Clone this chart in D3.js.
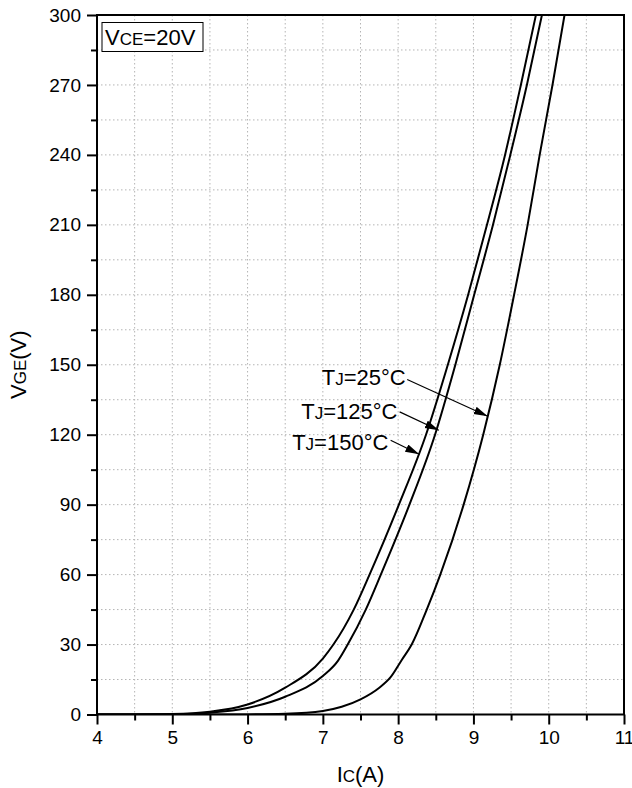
<!DOCTYPE html>
<html>
<head>
<meta charset="utf-8">
<script src="https://cdn.jsdelivr.net/npm/d3@7"></script>
<style>
body { margin: 0; background: #fff; }
text { font-family: "Liberation Sans", Arial, sans-serif; fill: #000; }
</style>
</head>
<body>
<svg width="632" height="788"></svg>
<script>
// transfer curves, VGE(V) against Ic(A)
var ic25 = [4.0, 5.0, 5.5, 6.0, 6.5, 7.0, 7.25, 7.5, 7.75, 7.9, 8.05, 8.18, 8.38, 8.56, 8.87, 9.13, 9.35, 9.54, 9.72, 9.88, 10.05, 10.21];
var vge25 = [0, 0, 0.01, 0.05, 0.3, 1.5, 3.3, 6.5, 11.5, 16, 23.5, 30, 45, 60, 90, 120, 150, 180, 210, 240, 270, 300];

var ic125 = [4.0, 4.5, 5.0, 5.5, 6.0, 6.5, 7.0, 7.2, 7.33, 7.57, 7.77, 8.15, 8.49, 8.76, 9.01, 9.26, 9.49, 9.71, 9.91];
var vge125 = [0, 0.02, 0.12, 0.8, 2.8, 7.6, 16.5, 23, 30, 45, 60, 90, 120, 150, 180, 210, 240, 270, 300];

var ic150 = [4.0, 4.5, 5.0, 5.5, 6.0, 6.5, 7.0, 7.14, 7.41, 7.62, 8.01, 8.37, 8.66, 8.93, 9.18, 9.42, 9.63, 9.83];
var vge150 = [0, 0.03, 0.2, 1.2, 4.3, 11.5, 24, 30, 45, 60, 90, 120, 150, 180, 210, 240, 270, 300];

var xTicks = [4, 5, 6, 7, 8, 9, 10, 11];
var yTicks = [0, 30, 60, 90, 120, 150, 180, 210, 240, 270, 300];

// labels with arrows: text end, arrow start and arrow tip in data units
var noteTemps = ['25', '125', '150'];
var noteText = [[8.10, 141.2], [7.99, 126.9], [7.87, 113.4]];
var noteFrom = [[8.12, 143.7], [8.02, 129.8], [7.90, 117.6]];
var noteTip = [[9.19, 127.9], [8.54, 121.9], [8.28, 111.6]];

var svg = d3.select('svg');
var mLeft = 97, mTop = 15, mRight = 624, mBottom = 714.5;

var x = d3.scaleLinear().domain([4, 11]).range([mLeft, mRight]);
var y = d3.scaleLinear().domain([0, 300]).range([mBottom, mTop]);

// dotted grid on every major and minor step
var g = svg.append('g');
g.selectAll('.vgrid')
	.data(d3.range(4.5, 11, 0.5))
	.enter().append('line')
	.attr('x1', function(d){ return x(d); })
	.attr('x2', function(d){ return x(d); })
	.attr('y1', mTop).attr('y2', mBottom)
	.attr('stroke', '#b4b4b4').attr('stroke-width', 1)
	.attr('stroke-dasharray', '1.5,2.5');
g.selectAll('.hgrid')
	.data(d3.range(15, 300, 15))
	.enter().append('line')
	.attr('y1', function(d){ return y(d); })
	.attr('y2', function(d){ return y(d); })
	.attr('x1', mLeft).attr('x2', mRight)
	.attr('stroke', '#b4b4b4').attr('stroke-width', 1)
	.attr('stroke-dasharray', '1.5,2.5');

// curves
var line = d3.line()
	.x(function(d){ return x(d[0]); })
	.y(function(d){ return y(d[1]); })
	.curve(d3.curveMonotoneX);

svg.append('clipPath').attr('id', 'plot')
	.append('rect').attr('x', mLeft).attr('y', mTop)
	.attr('width', mRight - mLeft).attr('height', mBottom - mTop);

var series = [[ic25, vge25], [ic125, vge125], [ic150, vge150]];
svg.append('g').attr('clip-path', 'url(#plot)')
	.selectAll('path')
	.data(series.map(function(s){ return d3.zip(s[0], s[1]); }))
	.enter().append('path')
	.attr('d', line)
	.attr('fill', 'none').attr('stroke', '#000').attr('stroke-width', 2);

// axes
var xAxis = d3.axisBottom(x).tickValues(xTicks).tickSize(10).tickPadding(6).tickFormat(d3.format('d'));
var yAxis = d3.axisLeft(y).tickValues(yTicks).tickSize(10).tickPadding(6).tickFormat(d3.format('d'));

var xa = svg.append('g').attr('transform', 'translate(0,' + mBottom + ')').call(xAxis);
var ya = svg.append('g').attr('transform', 'translate(' + mLeft + ',0)').call(yAxis);

svg.append('g').attr('transform', 'translate(0,' + mBottom + ')')
	.call(d3.axisBottom(x).tickValues(d3.range(4.5, 11, 1)).tickSize(6).tickFormat(''));
svg.append('g').attr('transform', 'translate(' + mLeft + ',0)')
	.call(d3.axisLeft(y).tickValues(d3.range(15, 300, 30)).tickSize(6).tickFormat(''));

svg.selectAll('.domain').remove();
svg.selectAll('.tick line').attr('stroke', '#000').attr('stroke-width', 2);
xa.selectAll('text').attr('font-size', 19).attr('font-family', '"Liberation Sans", Arial, sans-serif');
ya.selectAll('text').attr('font-size', 19).attr('font-family', '"Liberation Sans", Arial, sans-serif');

// frame
svg.append('rect')
	.attr('x', mLeft).attr('y', mTop)
	.attr('width', mRight - mLeft).attr('height', mBottom - mTop)
	.attr('fill', 'none').attr('stroke', '#000').attr('stroke-width', 2);

// axis titles
var xt = svg.append('text').attr('x', (mLeft + mRight) / 2).attr('y', 782)
	.attr('text-anchor', 'middle').attr('font-size', 22);
xt.append('tspan').text('I');
xt.append('tspan').attr('font-size', 17).text('C');
xt.append('tspan').text('(A)');

var yt = svg.append('text')
	.attr('transform', 'translate(26,' + ((mTop + mBottom) / 2) + ') rotate(-90)')
	.attr('text-anchor', 'middle').attr('font-size', 22);
yt.append('tspan').text('V');
yt.append('tspan').attr('font-size', 17).text('GE');
yt.append('tspan').text('(V)');

// condition box
svg.append('rect').attr('x', 102).attr('y', 22.5).attr('width', 101).attr('height', 29)
	.attr('fill', '#fff').attr('stroke', '#000').attr('stroke-width', 1);
var vt = svg.append('text').attr('x', 105).attr('y', 45).attr('font-size', 22);
vt.append('tspan').text('V');
vt.append('tspan').attr('font-size', 17).text('CE');
vt.append('tspan').text('=20V');

// arrow notes
svg.append('defs').append('marker')
	.attr('id', 'arr').attr('markerUnits', 'userSpaceOnUse')
	.attr('markerWidth', 16).attr('markerHeight', 10)
	.attr('refX', 14).attr('refY', 4).attr('orient', 'auto')
	.append('path').attr('d', 'M0,0 L14,4 L0,8 Z').attr('fill', '#000');

noteTemps.forEach(function(t, i){
	var tx = svg.append('text')
		.attr('x', x(noteText[i][0])).attr('y', y(noteText[i][1]))
		.attr('text-anchor', 'end').attr('font-size', 22);
	tx.append('tspan').text('T');
	tx.append('tspan').attr('font-size', 17).text('J');
	tx.append('tspan').text('=' + t + '\u00b0C');

	svg.append('line')
		.attr('x1', x(noteFrom[i][0])).attr('y1', y(noteFrom[i][1]))
		.attr('x2', x(noteTip[i][0])).attr('y2', y(noteTip[i][1]))
		.attr('stroke', '#000').attr('stroke-width', 1.2)
		.attr('marker-end', 'url(#arr)');
});
</script>
</body>
</html>
